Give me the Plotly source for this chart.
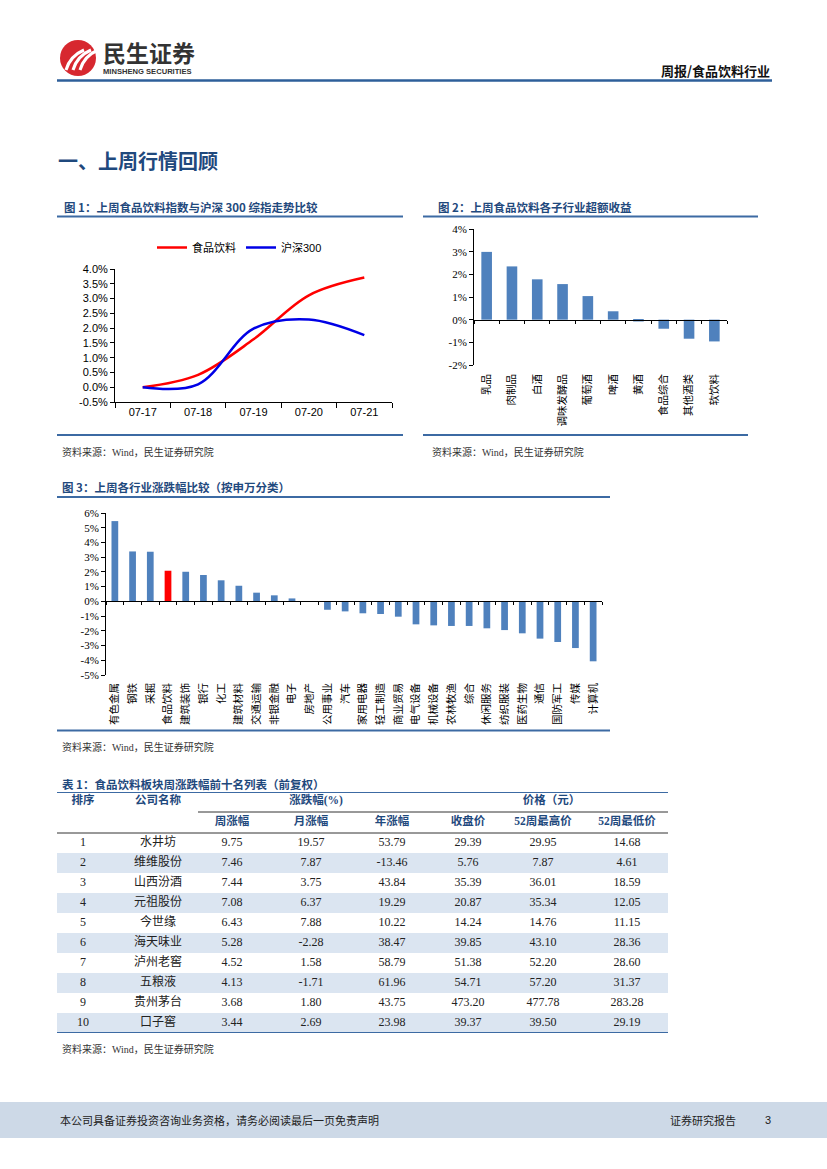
import numpy as np
import plotly.graph_objects as go

W, H = 827, 1169
def X(p): return p / W
def Y(p): return 1 - p / H

# ---------------- data ----------------
# Figure 1: cumulative return (%)
dates = ["07-17", "07-18", "07-19", "07-20", "07-21"]
food_bev = [0.00, 0.42, 1.62, 3.11, 3.71]
csi300 = [0.00, 0.10, 1.98, 2.29, 1.76]

# Figure 2: sub-industry excess return (%)
sub_inds = ["乳品", "肉制品", "白酒", "调味发酵品", "葡萄酒", "啤酒", "黄酒", "食品综合", "其他酒类", "软饮料"]
sub_excess = [2.99, 2.35, 1.78, 1.57, 1.04, 0.37, -0.08, -0.40, -0.84, -0.96]

# Figure 3: SW industry weekly change (%)
sw_inds = ["有色金属", "钢铁", "采掘", "食品饮料", "建筑装饰", "银行", "化工", "建筑材料", "交通运输",
           "非银金融", "电子", "房地产", "公用事业", "汽车", "家用电器", "轻工制造", "商业贸易", "电气设备",
           "机械设备", "农林牧渔", "综合", "休闲服务", "纺织服装", "医药生物", "通信", "国防军工", "传媒", "计算机"]
sw_chg = [5.45, 3.39, 3.37, 2.08, 2.01, 1.79, 1.43, 1.06, 0.59,
          0.41, 0.20, 0.02, -0.57, -0.68, -0.81, -0.86, -1.04, -1.56,
          -1.63, -1.67, -1.67, -1.83, -1.95, -2.17, -2.53, -2.76, -3.17, -4.07]

# Table 1
ranks = [1, 2, 3, 4, 5, 6, 7, 8, 9, 10]
names = ["水井坊", "维维股份", "山西汾酒", "元祖股份", "今世缘", "海天味业", "泸州老窖", "五粮液", "贵州茅台", "口子窖"]
wk_chg = [9.75, 7.46, 7.44, 7.08, 6.43, 5.28, 4.52, 4.13, 3.68, 3.44]
mo_chg = [19.57, 7.87, 3.75, 6.37, 7.88, -2.28, 1.58, -1.71, 1.80, 2.69]
yr_chg = [53.79, -13.46, 43.84, 19.29, 10.22, 38.47, 58.79, 61.96, 43.75, 23.98]
close_px = [29.39, 5.76, 35.39, 20.87, 14.24, 39.85, 51.38, 54.71, 473.20, 39.37]
high52 = [29.95, 7.87, 36.01, 35.34, 14.76, 43.10, 52.20, 57.20, 477.78, 39.50]
low52 = [14.68, 4.61, 18.59, 12.05, 11.15, 28.36, 28.60, 31.37, 283.28, 29.19]
tbl_header = ["周涨幅", "月涨幅", "年涨幅", "收盘价", "52周最高价", "52周最低价"]

# ---------------- styles ----------------
CN = "Noto Sans CJK SC"
SANS = "Liberation Sans, Noto Sans CJK SC"
SERIF = "Liberation Serif, Noto Sans CJK SC"
TITLE_BLUE = "#1f497d"
LINE_BLUE = "#3c6aa3"
BAR_BLUE = "#4f81bd"
TXT = "#222222"

fig = go.Figure()

# ---- Figure 1 lines
fig.add_trace(go.Scatter(x=dates, y=food_bev, mode="lines", name="食品饮料",
                         line=dict(color="#ff0000", width=2.5, shape="spline", smoothing=1.0),
                         xaxis="x", yaxis="y"))
fig.add_trace(go.Scatter(x=dates, y=csi300, mode="lines", name="沪深300",
                         line=dict(color="#0000e6", width=2.5, shape="spline", smoothing=1.0),
                         xaxis="x", yaxis="y"))

# ---- Figure 2 bars
fig.add_trace(go.Bar(x=sub_inds, y=sub_excess, marker=dict(color=BAR_BLUE, line=dict(width=0)),
                     width=0.42, xaxis="x2", yaxis="y2", showlegend=False))
fig.add_trace(go.Scatter(x=np.arange(len(sub_inds)), y=sub_excess, mode="markers",
                         marker=dict(opacity=0), hoverinfo="skip", showlegend=False,
                         xaxis="x4", yaxis="y2"))

# ---- Figure 3 bars
sw_colors = ["#ff0000" if n == "食品饮料" else BAR_BLUE for n in sw_inds]
fig.add_trace(go.Bar(x=sw_inds, y=sw_chg, marker=dict(color=sw_colors, line=dict(width=0)),
                     width=0.38, xaxis="x3", yaxis="y3", showlegend=False))
fig.add_trace(go.Scatter(x=np.arange(len(sw_inds)), y=sw_chg, mode="markers",
                         marker=dict(opacity=0), hoverinfo="skip", showlegend=False,
                         xaxis="x5", yaxis="y3"))

# ---- Table (text cells on a hidden axis pair)
col_centers = [83, 158, 232, 311, 392, 468, 543, 627]
columns = [
    [str(r) for r in ranks],
    names,
    [f"{v:.2f}" for v in wk_chg],
    [f"{v:.2f}" for v in mo_chg],
    [f"{v:.2f}" for v in yr_chg],
    [f"{v:.2f}" for v in close_px],
    [f"{v:.2f}" for v in high52],
    [f"{v:.2f}" for v in low52],
]
tx, ty, tt = [], [], []
for ci, col in enumerate(columns):
    for ri, val in enumerate(col):
        tx.append(col_centers[ci]); ty.append(ri); tt.append(val)
fig.add_trace(go.Scatter(x=tx, y=ty, text=tt, mode="text", textposition="middle center",
                         textfont=dict(family=SERIF, size=12, color=TXT),
                         hoverinfo="skip", showlegend=False, xaxis="x6", yaxis="y6"))
hx, hy, ht = [], [], []
for ci, h in enumerate(tbl_header):
    hx.append(col_centers[ci + 2]); hy.append(-1.05); ht.append(f"<b>{h}</b>")
hx += [col_centers[0], col_centers[1], (col_centers[2] + col_centers[4]) / 2 + 4,
       (col_centers[5] + col_centers[7]) / 2 + 4]
hy += [-2.1, -2.1, -2.1, -2.1]
ht += ["<b>排序</b>", "<b>公司名称</b>", "<b>涨跌幅(%)</b>", "<b>价格（元）</b>"]
fig.add_trace(go.Scatter(x=hx, y=hy, text=ht, mode="text", textposition="middle center",
                         textfont=dict(family=SERIF, size=11.5, color=TITLE_BLUE),
                         hoverinfo="skip", showlegend=False, xaxis="x6", yaxis="y6"))

# ---------------- axes ----------------
def zero_pos(dom, rng):
    return dom[0] + (0 - rng[0]) / (rng[1] - rng[0]) * (dom[1] - dom[0])

y1_vals = np.arange(-0.5, 4.01, 0.5)
y2_rng = [-2, 4]
y3_rng = [-5, 6]
y2_vals = np.arange(y2_rng[0], y2_rng[1] + 1)
y3_vals = np.arange(y3_rng[0], y3_rng[1] + 1)
x2_dom = [X(474), X(727)]
y2_dom = [Y(365), Y(229)]
x3_dom = [X(106), X(602)]
y3_dom = [Y(675), Y(513)]

common_y = dict(showline=True, linecolor="#000", linewidth=1, ticks="outside", ticklen=4,
                tickcolor="#000", showgrid=False, zeroline=False)

fig.update_layout(
    xaxis=dict(domain=[X(115), X(392)], anchor="y", type="category", range=[-0.5, len(dates) - 0.5],
               showline=True, linecolor="#000",
               linewidth=1, ticks="outside", ticklen=5, tickson="boundaries", tickcolor="#000",
               tickfont=dict(family=SANS, size=11, color="#000"), showgrid=False, zeroline=False),
    yaxis=dict(domain=[Y(402), Y(269)], anchor="x", range=[-0.5, 4.0], tickvals=y1_vals,
               ticktext=[f"{v:.1f}%" for v in y1_vals], tickfont=dict(family=SANS, size=11, color="#000"),
               **common_y),
    xaxis2=dict(domain=x2_dom, anchor="y2", type="category", showline=False, ticks="", showgrid=False,
                zeroline=False, tickangle=-90, ticklabelstandoff=6,
                tickfont=dict(family=CN, size=10.5, color="#000")),
    yaxis2=dict(domain=y2_dom, anchor="x2", range=y2_rng, tickvals=y2_vals,
                ticktext=[f"{v}%" for v in y2_vals], tickfont=dict(family=SERIF, size=11, color="#000"),
                **common_y),
    xaxis4=dict(overlaying="x2", anchor="free", domain=x2_dom, position=zero_pos(y2_dom, y2_rng),
                range=[-0.5, len(sub_inds) - 0.5], tickvals=np.arange(len(sub_inds) + 1) - 0.5,
                ticks="outside", ticklen=3, tickcolor="#000", showline=True, linecolor="#000",
                showticklabels=False, showgrid=False, zeroline=False),
    xaxis3=dict(domain=x3_dom, anchor="y3", type="category", showline=False, ticks="", showgrid=False,
                zeroline=False, tickangle=-90, ticklabelstandoff=5,
                tickfont=dict(family=CN, size=10.5, color="#000")),
    yaxis3=dict(domain=y3_dom, anchor="x3", range=y3_rng, tickvals=y3_vals,
                ticktext=[f"{v}%" for v in y3_vals], tickfont=dict(family=SERIF, size=11, color="#000"),
                **common_y),
    xaxis5=dict(overlaying="x3", anchor="free", domain=x3_dom, position=zero_pos(y3_dom, y3_rng),
                range=[-0.5, len(sw_inds) - 0.5], tickvals=np.arange(len(sw_inds) + 1) - 0.5,
                ticks="outside", ticklen=3, tickcolor="#000", showline=True, linecolor="#000",
                showticklabels=False, showgrid=False, zeroline=False),
    xaxis6=dict(domain=[X(57), X(668)], anchor="y6", range=[57, 668], visible=False),
    yaxis6=dict(domain=[Y(1033), Y(792)], anchor="x6", range=[9.5, -2.55], visible=False),
)

# ---------------- shapes ----------------
shapes = []
def hline(x0, x1, y, color, width):
    shapes.append(dict(type="line", xref="paper", yref="paper", x0=X(x0), x1=X(x1), y0=Y(y), y1=Y(y),
                       line=dict(color=color, width=width)))

# footer band
shapes.append(dict(type="rect", xref="paper", yref="paper", x0=0, x1=1, y0=Y(1138), y1=Y(1102),
                   fillcolor="#cdd9e7", line=dict(width=0), layer="below"))
# table row shading
for ri in range(len(ranks)):
    if ri % 2 == 1:
        shapes.append(dict(type="rect", xref="x6", yref="y6", x0=57, x1=668, y0=ri - 0.5, y1=ri + 0.5,
                           fillcolor="#dbe5f1", line=dict(width=0), layer="below"))
# table lines
shapes.append(dict(type="line", xref="x6", yref="y6", x0=57, x1=668, y0=-2.55, y1=-2.55,
                   line=dict(color=LINE_BLUE, width=2)))
shapes.append(dict(type="line", xref="x6", yref="y6", x0=198, x1=668, y0=-1.55, y1=-1.55,
                   line=dict(color="#333333", width=1)))
shapes.append(dict(type="line", xref="x6", yref="y6", x0=57, x1=668, y0=-0.5, y1=-0.5,
                   line=dict(color="#333333", width=1)))
shapes.append(dict(type="line", xref="x6", yref="y6", x0=57, x1=668, y0=9.5, y1=9.5,
                   line=dict(color=LINE_BLUE, width=2)))

# header line
hline(57, 772, 80.5, "#2e5f9a", 2.5)
# figure title underlines / bottom lines
hline(57, 403, 216.5, LINE_BLUE, 2)
hline(57, 403, 435, LINE_BLUE, 2)
hline(423, 758, 216.5, LINE_BLUE, 2)
hline(423, 748, 435, LINE_BLUE, 2)
hline(57, 610, 497, LINE_BLUE, 2)
hline(57, 610, 730.5, LINE_BLUE, 2)

# logo
shapes.append(dict(type="circle", xref="paper", yref="paper", x0=X(60), x1=X(96), y0=Y(76), y1=Y(40),
                   fillcolor="#d7282f", line=dict(width=0)))
for dx in (0, 7, 14):
    shapes.append(dict(type="path", xref="paper", yref="paper",
                       path=f"M {X(66+dx)} {Y(70)} Q {X(70+dx)} {Y(56)} {X(84+dx)} {Y(50)}",
                       line=dict(color="white", width=3)))

# ---------------- annotations ----------------
ann = []
def txt(s, x, y, size, color=TXT, family=CN, xanchor="left"):
    ann.append(dict(text=s, x=X(x), y=Y(y), xref="paper", yref="paper", xanchor=xanchor,
                    yanchor="middle", showarrow=False, font=dict(family=family, size=size, color=color)))

txt("<b>民生证券</b>", 101, 52, 23, "#333333")
txt("<b>MINSHENG SECURITIES</b>", 101, 71.5, 7.6, "#333333", SANS)
txt("<b>周报/食品饮料行业</b>", 772, 70, 13, "#111111", CN, "right")
txt("<b>一、上周行情回顾</b>", 56, 161, 20, TITLE_BLUE)
txt("<b>图 1：上周食品饮料指数与沪深 300 综指走势比较</b>", 62, 207, 11.5, TITLE_BLUE)
txt("<b>图 2：上周食品饮料各子行业超额收益</b>", 436, 207, 11.5, TITLE_BLUE)
txt("<b>图 3：上周各行业涨跌幅比较（按申万分类）</b>", 60, 487, 11.5, TITLE_BLUE)
txt("<b>表 1：食品饮料板块周涨跌幅前十名列表（前复权）</b>", 60, 784, 11.5, TITLE_BLUE)
src = "资料来源：Wind，民生证券研究院"
txt(src, 60, 452, 10, "#333333", SERIF)
txt(src, 430, 452, 10, "#333333", SERIF)
txt(src, 60, 747, 10, "#333333", SERIF)
txt(src, 60, 1049, 10, "#333333", SERIF)
txt("本公司具备证券投资咨询业务资格，请务必阅读最后一页免责声明", 58, 1120, 11, "#222222")
txt("证券研究报告", 668, 1120, 11, "#222222")
txt("3", 773, 1120, 11, "#222222", SANS, "right")

fig.update_layout(
    width=W, height=H, margin=dict(l=0, r=0, t=0, b=0, autoexpand=False),
    paper_bgcolor="white", plot_bgcolor="rgba(0,0,0,0)",
    shapes=shapes, annotations=ann,
    showlegend=True,
    legend=dict(orientation="h", x=X(152), y=Y(233), xanchor="left", yanchor="top",
                font=dict(family=SANS, size=11, color="#000"), bgcolor="rgba(0,0,0,0)",
                itemwidth=30, tracegroupgap=0),
)

fig.write_html("out.html", config={"displayModeBar": False},
               post_script="document.body.style.margin='0';document.body.style.padding='0';")
